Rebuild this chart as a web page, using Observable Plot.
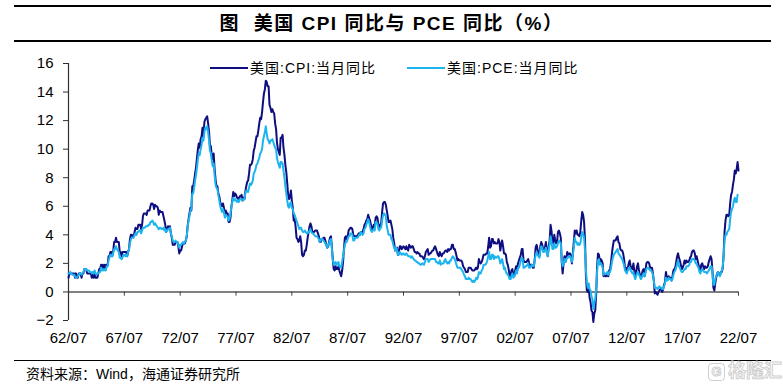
<!DOCTYPE html>
<html><head><meta charset="utf-8">
<script src="https://cdn.jsdelivr.net/npm/d3@7"></script>
<script src="https://cdn.jsdelivr.net/npm/@observablehq/plot@0.6"></script>
<style>
body{margin:0;background:#fff;}
#wrap{position:relative;width:783px;height:387px;overflow:hidden;font-family:"Liberation Sans",Arial,"Noto Sans CJK SC",sans-serif;color:#000;}
#wrap svg{position:absolute;left:0;top:0;}
.hr{position:absolute;left:14px;width:757px;height:1.5px;background:#000;}
#title{position:absolute;left:0;width:783px;top:11px;text-align:center;font-weight:bold;font-size:19px;letter-spacing:1.5px;line-height:26px;white-space:pre;}
.leg{position:absolute;top:59px;font-size:14px;line-height:18px;white-space:nowrap;letter-spacing:1px;}
.sw{display:inline-block;width:38px;height:2px;vertical-align:middle;margin-right:2px;position:relative;top:-1px;}
#source{position:absolute;left:26px;top:364px;font-size:14px;line-height:20px;white-space:nowrap;}
#wm{position:absolute;left:708px;top:360px;font-size:18px;font-weight:bold;line-height:22px;color:#fff;-webkit-text-stroke:1px #cfcfcf;white-space:nowrap;}
#wm span{display:inline-block;border:1.5px solid #cfcfcf;border-radius:4px;width:15px;height:16px;line-height:16px;text-align:center;font-size:13px;margin-right:3px;vertical-align:middle;-webkit-text-stroke:1px #cfcfcf;}
</style>
</head><body>
<div id="wrap">
</div>
<script>
// monthly YoY %, starting 1962-07
const startYear = 1962, startMonth = 7;
const cpi = [
1.0,1.3,1.3,1.3,1.3,1.3,
1.3,1.0,1.3,1.0,1.0,1.3,1.3,1.3,1.0,1.3,1.3,1.6,
1.6,1.6,1.3,1.3,1.3,1.3,1.3,1.0,1.3,1.0,1.3,1.0,
1.0,1.0,1.3,1.6,1.6,1.9,1.6,1.9,1.6,1.9,1.6,1.9,
1.9,2.5,2.5,2.8,2.8,2.5,2.8,3.5,3.5,3.8,3.5,3.5,
3.5,2.8,2.8,2.5,2.8,2.8,2.8,2.8,2.8,2.5,2.8,3.0,
3.7,4.0,4.0,3.9,3.9,4.2,4.5,4.4,4.4,4.7,4.7,4.7,
4.4,4.7,5.3,5.5,5.5,5.5,5.4,5.7,5.7,5.7,6.0,6.2,
6.2,6.1,5.8,6.1,6.0,6.0,5.9,5.4,5.7,5.6,5.6,5.6,
5.3,5.0,4.7,4.2,4.4,4.6,4.4,4.6,4.1,3.8,3.3,3.3,
3.3,3.5,3.5,3.5,3.2,2.7,2.9,2.9,3.2,3.4,3.4,3.4,
3.6,3.9,4.6,5.1,5.5,5.9,5.7,7.4,7.4,7.8,8.3,8.7,
9.4,10.0,10.4,10.1,10.7,10.9,11.5,10.9,11.9,12.1,12.2,12.3,
11.8,11.2,10.3,10.2,9.5,9.3,9.7,8.6,7.9,7.4,7.4,6.9,
6.7,6.3,6.1,6.0,6.2,5.9,5.4,5.7,5.5,5.5,4.9,4.9,
5.2,6.0,6.4,7.0,6.7,6.9,6.8,6.6,6.6,6.4,6.7,6.7,
6.8,6.4,6.6,6.5,7.0,7.4,7.7,7.8,8.3,8.9,8.9,9.0,
9.3,9.9,10.1,10.5,10.9,10.9,11.3,11.8,12.2,12.1,12.6,13.3,
13.9,14.2,14.8,14.7,14.4,14.4,13.1,12.9,12.6,12.8,12.6,12.5,
11.8,11.4,10.5,10.0,9.8,9.6,10.8,10.8,11.0,10.1,9.6,8.9,
8.4,7.6,6.8,6.5,6.7,7.1,6.4,5.9,5.0,5.1,4.6,3.8,
3.7,3.5,3.6,3.9,3.5,2.6,2.5,2.6,2.9,2.9,3.3,3.8,
4.2,4.6,4.8,4.6,4.2,4.2,4.2,4.3,4.3,4.3,4.1,3.9,
3.5,3.5,3.7,3.7,3.8,3.8,3.6,3.3,3.1,3.2,3.5,3.8,
3.9,3.1,2.3,1.6,1.5,1.8,1.6,1.6,1.8,1.5,1.3,1.1,
1.5,2.1,3.0,3.8,3.9,3.7,3.9,4.3,4.4,4.5,4.5,4.4,
4.0,3.9,3.9,3.9,3.9,4.0,4.1,4.0,4.2,4.2,4.2,4.4,
4.7,4.8,5.0,5.1,5.4,5.2,5.0,4.7,4.3,4.5,4.7,4.6,
5.2,5.3,5.2,4.7,4.4,4.7,4.8,5.6,6.2,6.3,6.3,6.1,
5.7,5.3,4.9,4.9,5.0,4.7,4.4,3.8,3.4,2.9,3.0,3.1,
2.6,2.8,3.2,3.2,3.0,3.1,3.2,3.1,3.0,3.2,3.0,2.9,
3.3,3.2,3.1,3.2,3.2,3.0,2.8,2.8,2.7,2.8,2.7,2.7,
2.5,2.5,2.5,2.4,2.3,2.5,2.8,2.9,3.0,2.6,2.7,2.7,
2.8,2.9,2.9,3.1,3.2,3.0,2.8,2.6,2.5,2.8,2.6,2.5,
2.7,2.7,2.8,2.9,2.9,2.8,3.0,2.9,3.0,3.0,3.3,3.3,
3.0,3.0,2.8,2.5,2.2,2.3,2.2,2.2,2.2,2.1,1.8,1.7,
1.6,1.4,1.4,1.4,1.7,1.7,1.7,1.6,1.5,1.5,1.5,1.6,
1.7,1.6,1.7,2.3,2.1,2.0,2.1,2.3,2.6,2.6,2.6,2.7,
2.7,3.2,3.8,3.1,3.2,3.7,3.7,3.4,3.5,3.4,3.4,3.4,
3.7,3.5,2.9,3.3,3.6,3.2,2.7,2.7,2.6,2.1,1.9,1.6,
1.1,1.1,1.5,1.6,1.2,1.1,1.5,1.8,1.5,2.0,2.2,2.4,
2.6,3.0,3.0,2.2,2.1,2.1,2.1,2.2,2.3,2.0,1.8,1.9,
1.9,1.7,1.7,2.3,3.1,3.3,3.0,2.7,2.5,3.2,3.5,3.3,
3.0,3.0,3.1,3.5,2.8,2.5,3.2,3.6,4.7,4.3,3.5,3.4,
4.0,3.6,3.4,3.5,4.2,4.3,4.1,3.8,2.1,1.3,2.0,2.5,
2.1,2.4,2.8,2.6,2.7,2.7,2.4,2.0,2.8,3.5,4.3,4.1,
4.3,4.0,4.0,3.9,4.2,5.0,5.6,5.4,4.9,3.7,1.1,0.1,
0.0,0.2,-0.4,-0.7,-1.3,-1.4,-2.1,-1.5,-1.3,-0.2,1.8,2.7,
2.6,2.1,2.3,2.2,2.0,1.1,1.2,1.1,1.1,1.2,1.1,1.5,
1.6,2.1,2.7,3.2,3.6,3.6,3.6,3.8,3.9,3.5,3.4,3.0,
2.9,2.9,2.7,2.3,1.7,1.7,1.4,1.7,2.0,2.2,1.8,1.7,
1.6,2.0,1.5,1.1,1.4,1.8,2.0,1.5,1.2,1.0,1.2,1.5,
1.6,1.1,1.5,2.0,2.1,2.1,2.0,1.7,1.7,1.7,1.3,0.8,
-0.1,0.0,-0.1,-0.2,0.0,0.1,0.2,0.2,0.0,0.2,0.5,0.7,
1.4,1.0,0.9,1.1,1.0,1.0,0.8,1.1,1.5,1.6,1.7,2.1,
2.5,2.7,2.4,2.2,1.9,1.6,1.7,1.9,2.2,2.0,2.2,2.1,
2.1,2.2,2.4,2.5,2.8,2.9,2.9,2.7,2.3,2.5,2.2,1.9,
1.6,1.5,1.9,2.0,1.8,1.6,1.8,1.7,1.7,1.8,2.1,2.3,
2.5,2.3,1.5,0.3,0.1,0.6,1.0,1.3,1.4,1.2,1.2,1.4,
1.4,1.7,2.6,4.2,5.0,5.4,5.4,5.3,5.4,6.2,6.8,7.0,
7.5,7.9,8.5,8.3,8.6,9.1,8.5
];
const pce = [
1.3,1.3,1.4,1.3,1.2,1.2,
1.2,1.1,1.0,1.0,1.1,1.2,1.3,1.3,1.2,1.3,1.4,1.6,
1.6,1.6,1.5,1.5,1.5,1.4,1.4,1.3,1.4,1.3,1.5,1.3,
1.2,1.3,1.3,1.4,1.4,1.7,1.5,1.6,1.5,1.6,1.5,1.8,
1.8,2.2,2.4,2.6,2.6,2.5,2.7,3.0,3.0,3.2,3.0,2.9,
2.8,2.4,2.4,2.3,2.4,2.6,2.6,2.5,2.6,2.5,2.8,3.0,
3.4,3.7,3.8,3.8,3.8,4.0,4.1,4.0,4.2,4.2,4.3,4.3,
4.1,4.3,4.5,4.5,4.5,4.6,4.6,4.6,4.7,4.7,4.9,4.9,
5.0,4.9,4.7,4.8,4.7,4.6,4.5,4.4,4.5,4.5,4.4,4.4,
4.5,4.3,4.4,4.2,4.3,4.4,4.4,4.5,4.1,3.9,3.6,3.5,
3.5,3.6,3.5,3.5,3.3,3.1,3.3,3.3,3.4,3.5,3.4,3.5,
3.6,3.9,4.5,5.0,5.3,5.7,5.8,6.9,6.9,7.3,7.8,8.2,
8.7,9.3,9.7,9.6,10.0,10.3,10.8,10.6,11.2,11.5,11.4,11.6,
11.2,10.6,9.9,9.7,9.2,8.8,9.0,8.2,7.5,7.3,7.2,6.8,
6.4,6.0,5.8,5.6,5.8,5.6,5.2,5.4,5.3,5.3,5.0,5.1,
5.5,6.0,6.3,6.6,6.4,6.5,6.4,6.3,6.4,6.3,6.5,6.5,
6.5,6.4,6.5,6.5,6.9,7.1,7.1,7.0,7.3,7.6,7.5,7.6,
7.8,8.3,8.4,8.6,8.9,9.0,9.2,9.4,9.7,9.8,10.0,10.6,
10.9,11.2,11.6,11.1,10.7,10.6,10.4,10.6,10.6,10.7,10.5,10.3,
10.1,10.0,9.4,9.1,8.9,8.7,9.1,9.1,9.0,8.5,8.0,7.4,
6.9,6.4,6.0,5.9,6.2,6.3,5.9,5.8,5.5,5.4,5.2,5.0,
4.8,4.6,4.4,4.5,4.5,4.3,4.2,4.2,4.3,4.2,4.1,4.1,
4.2,4.3,4.4,4.2,4.1,4.1,4.0,3.9,3.9,3.9,3.8,3.7,
3.5,3.6,3.7,3.7,3.6,3.5,3.4,3.3,3.1,3.3,3.4,3.6,
3.7,3.0,2.3,1.9,2.0,2.1,1.9,2.0,2.1,1.8,1.8,1.7,
2.1,2.5,2.9,3.3,3.5,3.5,3.7,3.9,3.9,4.1,4.1,4.0,
3.6,3.6,3.8,3.8,3.8,3.8,4.0,4.0,4.2,4.1,4.0,4.1,
4.4,4.5,4.7,4.9,5.1,4.9,4.6,4.3,4.2,4.3,4.4,4.3,
4.9,4.9,4.8,4.4,4.3,4.5,4.5,5.0,5.4,5.5,5.4,5.3,
4.6,4.3,4.0,4.0,4.0,3.7,3.6,3.3,3.1,2.9,3.1,3.0,
2.6,2.6,2.8,2.7,2.6,2.7,2.7,2.6,2.6,2.7,2.6,2.5,
2.5,2.5,2.4,2.5,2.4,2.3,2.2,2.2,2.1,2.1,2.0,2.0,
1.9,1.9,2.0,2.0,1.9,2.1,2.3,2.3,2.3,2.1,2.2,2.3,
2.3,2.3,2.3,2.3,2.3,2.1,2.1,2.0,2.0,2.2,1.9,2.0,
2.0,2.0,2.2,2.3,2.1,2.0,2.1,2.0,2.2,2.2,2.4,2.5,
2.4,2.3,2.1,1.9,1.7,1.7,1.7,1.7,1.6,1.5,1.4,1.2,
1.1,0.9,0.9,0.9,1.0,0.9,0.9,0.8,0.7,0.8,0.7,0.8,
1.0,0.9,1.0,1.4,1.3,1.3,1.5,1.6,1.9,1.9,1.9,2.0,
2.2,2.5,2.8,2.3,2.3,2.6,2.6,2.3,2.5,2.4,2.4,2.5,
2.5,2.3,2.0,2.1,2.3,2.0,1.6,1.7,1.4,1.3,1.2,1.1,
0.9,0.9,1.1,1.3,1.0,1.1,1.2,1.5,1.3,1.7,1.7,1.9,
2.2,2.4,2.3,1.7,1.7,1.8,1.8,1.9,2.0,1.7,1.7,1.8,
1.9,1.8,1.8,2.2,2.6,2.8,2.6,2.5,2.4,2.9,3.2,3.1,
2.8,2.8,2.9,3.1,2.7,2.5,3.0,3.3,3.9,3.5,3.0,3.0,
3.4,3.1,3.1,3.2,3.4,3.6,3.5,3.4,2.2,1.8,2.0,2.3,
2.1,2.3,2.4,2.4,2.5,2.5,2.3,2.1,2.6,3.1,3.8,3.5,
3.5,3.3,3.4,3.3,3.4,3.8,4.2,4.1,3.8,2.9,1.5,0.7,
0.3,0.6,0.2,0.1,-0.3,-0.5,-1.2,-0.8,-0.5,0.2,1.4,2.2,
2.3,1.9,2.0,1.9,1.7,1.2,1.3,1.3,1.3,1.4,1.2,1.4,
1.4,1.7,2.1,2.4,2.6,2.7,2.8,2.9,3.0,2.7,2.6,2.5,
2.4,2.3,2.1,1.9,1.5,1.4,1.3,1.5,1.7,1.7,1.5,1.4,
1.3,1.4,1.1,0.9,1.1,1.3,1.4,1.2,1.1,0.9,1.0,1.2,
1.3,1.1,1.3,1.6,1.7,1.7,1.6,1.5,1.5,1.4,1.2,0.8,
0.3,0.3,0.3,0.2,0.3,0.4,0.3,0.3,0.2,0.2,0.4,0.6,
1.0,0.8,0.8,1.0,0.9,0.9,0.8,0.9,1.2,1.4,1.5,1.7,
2.0,2.2,1.8,1.7,1.5,1.4,1.4,1.5,1.6,1.6,1.8,1.8,
1.8,1.9,2.1,2.1,2.3,2.3,2.3,2.2,2.0,2.0,1.8,1.7,
1.4,1.3,1.5,1.6,1.5,1.4,1.4,1.4,1.3,1.4,1.5,1.6,
1.8,1.8,1.3,0.5,0.5,0.9,1.1,1.3,1.4,1.2,1.1,1.3,
1.5,1.8,2.5,3.6,4.0,4.0,4.2,4.3,4.4,5.1,5.6,5.8,
6.0,6.4,6.6,6.3,6.3,6.8
];
const yTicks = [-2,0,2,4,6,8,10,12,14,16];
const xTickYears = [1962,1967,1972,1977,1982,1987,1992,1997,2002,2007,2012,2017,2022];
const seriesNames = ["美国:CPI:当月同比","美国:PCE:当月同比"];
const seriesColors = ["#0e0e80","#1cb4ee"];
const titleText = "图  美国 CPI 同比与 PCE 同比（%）";
const sourceText = "资料来源：Wind，海通证券研究所";

const start = new Date(Date.UTC(startYear, startMonth - 1, 1));
const end = new Date(Date.UTC(2022, 6, 1));
const toRows = arr => arr.map((v, i) => ({date: d3.utcMonth.offset(start, i), value: v}));
const cpiRows = toRows(cpi), pceRows = toRows(pce);
const xTicks = xTickYears.map(y => new Date(Date.UTC(y, 6, 1)));

const chart = Plot.plot({
  width: 783, height: 387,
  marginLeft: 68, marginRight: 45, marginTop: 63, marginBottom: 67,
  x: {type: "utc", domain: [start, end]},
  y: {domain: [-2, 16]},
  style: {fontFamily: "'Liberation Sans', Arial, sans-serif", fontSize: "15px", color: "#000", background: "transparent", overflow: "visible"},
  marks: [
    Plot.ruleY([0], {stroke: "#808080", strokeWidth: 2}),
    Plot.ruleX(xTicks, {x: d => d, y1: 0, y2: -0.3, stroke: "#404040", strokeWidth: 1}),
    Plot.ruleX([start], {y1: -2, y2: 16, stroke: "#303030", strokeWidth: 1.2}),
    Plot.axisY({ticks: yTicks, tickSize: 5, tickPadding: 10, fontSize: 15, label: null, stroke: "#303030"}),
    Plot.axisX({ticks: xTicks, tickSize: 0, tickPadding: 12, tickFormat: d3.utcFormat("%y/%m"), fontSize: 15, label: null}),
    Plot.lineY(cpiRows, {x: "date", y: "value", stroke: seriesColors[0], strokeWidth: 2}),
    Plot.lineY(pceRows, {x: "date", y: "value", stroke: seriesColors[1], strokeWidth: 2})
  ]
});

const wrap = document.getElementById("wrap");
wrap.appendChild(chart);

function add(tag, attrs, html) {
  const el = document.createElement(tag);
  Object.assign(el, attrs);
  if (html != null) el.textContent = html;
  wrap.appendChild(el);
  return el;
}
const l1 = add("div", {className: "hr"}); l1.style.top = "5px";
const l2 = add("div", {className: "hr"}); l2.style.top = "40px";
const l3 = add("div", {className: "hr"}); l3.style.top = "359.5px";
add("div", {id: "title"}, titleText);
const legLeft = [210, 407];
seriesNames.forEach((name, i) => {
  const d = add("div", {className: "leg"});
  d.style.left = legLeft[i] + "px";
  const sw = document.createElement("span");
  sw.className = "sw"; sw.style.background = seriesColors[i];
  d.appendChild(sw);
  d.appendChild(document.createTextNode(name));
});
add("div", {id: "source"}, sourceText);
const wm = add("div", {id: "wm"});
const g = document.createElement("span"); g.textContent = "G"; wm.appendChild(g);
wm.appendChild(document.createTextNode("格隆汇"));
</script>
</body></html>
